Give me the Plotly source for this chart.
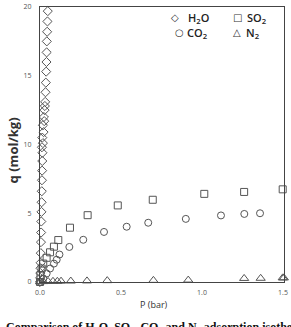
import plotly.graph_objects as go

# ---------------- data ----------------
h2o_p = [0.0, 0.001, 0.002, 0.003, 0.004, 0.005, 0.006, 0.007, 0.008, 0.009, 0.010,
         0.011, 0.012, 0.013, 0.014, 0.015, 0.012, 0.018, 0.014, 0.022, 0.018, 0.026,
         0.024, 0.028, 0.030, 0.032, 0.034, 0.036, 0.038, 0.040, 0.041, 0.042, 0.044,
         0.046, 0.048]
h2o_q = [0.0, 0.3, 0.65, 1.0, 1.4, 2.1, 2.9, 3.6, 4.4, 5.1, 5.8, 6.6, 7.4, 8.1, 8.8,
         9.4, 9.8, 10.1, 10.5, 10.9, 11.4, 11.7, 12.0, 12.5, 12.8, 13.1, 13.8, 14.5,
         15.3, 16.0, 16.7, 17.5, 18.2, 18.95, 19.7]

so2_p = [0.0, 0.003, 0.01, 0.02, 0.041, 0.062, 0.086, 0.113, 0.185, 0.294, 0.48,
         0.696, 1.014, 1.26, 1.498]
so2_q = [0.0, 0.5, 0.98, 1.34, 1.76, 2.16, 2.57, 3.05, 3.95, 4.86, 5.57, 5.98, 6.41,
         6.55, 6.74]

co2_p = [0.004, 0.02, 0.041, 0.062, 0.086, 0.103, 0.12, 0.181, 0.267, 0.395, 0.535,
         0.668, 0.9, 1.117, 1.261, 1.358]
co2_q = [0.0, 0.26, 0.62, 0.98, 1.34, 1.62, 2.0, 2.55, 3.07, 3.64, 4.02, 4.31, 4.59,
         4.84, 4.95, 5.0]

n2_p = [0.0, 0.02, 0.05, 0.08, 0.107, 0.13, 0.19, 0.29, 0.415, 0.70, 0.915, 1.26,
        1.362, 1.498, 1.505]
n2_q = [0.02, 0.03, 0.04, 0.05, 0.05, 0.06, 0.07, 0.08, 0.10, 0.12, 0.14, 0.26,
        0.27, 0.30, 0.30]

x_ticks = [0.0, 0.5, 1.0, 1.5]
x_tick_labels = ["0.0", "0.5", "1.0", "1.5"]
y_ticks = [0, 5, 10, 15, 20]

legend_items = [("◇", "H<sub>2</sub>O"), ("□", "SO<sub>2</sub>"),
                ("○", "CO<sub>2</sub>"), ("△", "N<sub>2</sub>")]
caption = ("Comparison of H<sub>2</sub>O, SO<sub>2</sub>, CO<sub>2</sub> and "
           "N<sub>2</sub> adsorption isotherms")

# ---------------- figure ----------------
W, H = 291, 327
L, R, T, B = 40, 7, 2, 45
mcol = "#555555"

def px_x(px):
    return (px - L) / (W - L - R)

def px_y(py):
    return (H - B - py) / (H - T - B)

fig = go.Figure()
for xs, ys, sym, sz, name in [
    (h2o_p, h2o_q, "diamond-open", 7, "H2O"),
    (so2_p, so2_q, "square-open", 7, "SO2"),
    (co2_p, co2_q, "circle-open", 7, "CO2"),
    (n2_p, n2_q, "triangle-up-open", 8, "N2"),
]:
    fig.add_trace(go.Scatter(
        x=xs, y=ys, mode="markers", name=name, cliponaxis=False,
        marker=dict(symbol=sym, size=sz, color=mcol, line=dict(width=1, color=mcol)),
    ))

axis_common = dict(showgrid=False, zeroline=False, showline=True, linecolor="#444444",
                   linewidth=1, mirror=True, ticklabeloverflow="allow",
                   tickfont=dict(family="Open Sans", size=7, color="#555555"),
                   ticks="outside", tickcolor="rgba(0,0,0,0)")

fig.update_xaxes(range=[0, 1.506], tickvals=x_ticks, ticktext=x_tick_labels,
                 ticklen=4, **axis_common)
fig.update_yaxes(range=[0, 20], tickvals=y_ticks, ticklen=6, **axis_common)

ann = []
# legend drawn as text
sym_pos = [(175, 13), (237, 13), (179, 28), (237, 28)]
txt_pos = [(186, 13), (245, 13), (185, 28), (244, 28)]
for (s, t), (sx, sy), (tx, ty) in zip(legend_items, sym_pos, txt_pos):
    ann.append(dict(text=s, x=px_x(sx), y=px_y(sy), xref="paper", yref="paper",
                    showarrow=False, xanchor="center", yanchor="middle",
                    font=dict(family="DejaVu Sans", size=10, color="#333333")))
    ann.append(dict(text=t, x=px_x(tx), y=px_y(ty), xref="paper", yref="paper",
                    showarrow=False, xanchor="left", yanchor="middle",
                    font=dict(family="Open Sans", size=11, weight=600, color="#222222")))

# axis titles
ann.append(dict(text="P (bar)", x=px_x(154), y=px_y(305), xref="paper", yref="paper",
                showarrow=False, xanchor="center", yanchor="middle",
                font=dict(family="Open Sans", size=9, color="#333333")))
ann.append(dict(text="<b>q (mol/kg)</b>", x=px_x(13), y=px_y(148), xref="paper",
                yref="paper", showarrow=False, xanchor="center", yanchor="middle",
                textangle=-90, font=dict(family="Open Sans", size=13, color="#333333")))
# caption (cut by the page bottom)
ann.append(dict(text="<b>" + caption + "</b>", x=px_x(4), y=px_y(319), xref="paper",
                yref="paper", showarrow=False, xanchor="left", yanchor="top",
                font=dict(family="Liberation Serif", size=12, color="#111111")))

fig.update_layout(width=W, height=H, margin=dict(l=L, r=R, t=T, b=B),
                  paper_bgcolor="white", plot_bgcolor="white", showlegend=False,
                  annotations=ann)

fig.write_html("out.html", config={"displayModeBar": False})
